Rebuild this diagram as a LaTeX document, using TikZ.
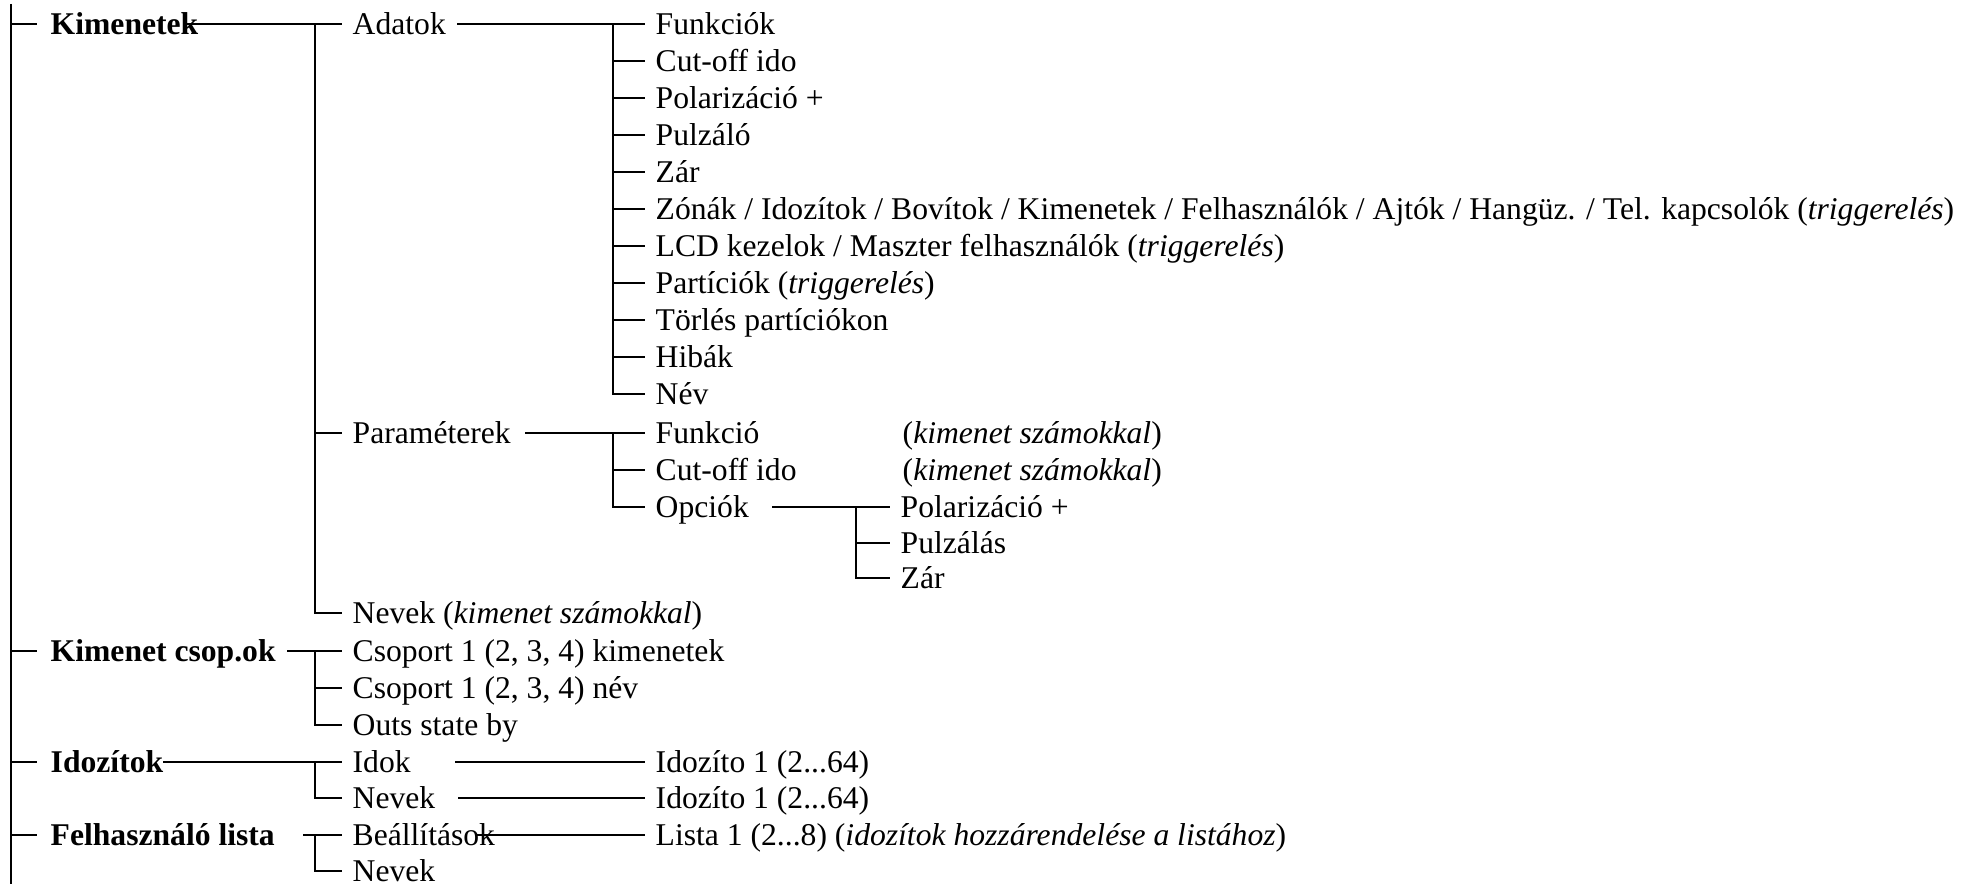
\documentclass[tikz,border=0pt]{standalone}
\usepackage{fontspec}
\setmainfont{Liberation Serif}

\begin{document}
\begin{tikzpicture}[
  font=\fontsize{9pt}{10pt}\selectfont,
  item/.style={anchor=west, inner xsep=0.1cm, inner ysep=0pt, text height=0.26cm, text depth=0.05cm},
  head/.style={item, inner xsep=0.13cm, font=\fontsize{9pt}{10pt}\selectfont\bfseries},
  wire/.style={line width=0.6pt}
]
\useasboundingbox (0,0) rectangle (19.70,-8.84);

%% ---------- spine ----------
\coordinate (spine-top) at (0.11,-0.04);
\coordinate (spine-bot) at (0.11,-8.84);
\draw[wire] (spine-top) -- (spine-bot);

%% ---------- top level ----------
\node[head] (kim)    at (0.37,-0.24) {Kimenetek};
\node[head] (csop)   at (0.37,-6.51) {Kimenet csop.ok};
\node[head] (idoz)   at (0.37,-7.62) {Idozítok};
\node[head] (flista) at (0.37,-8.35) {Felhasználó lista};

\draw[wire] (spine-top |- kim.west)    -- (kim.west);
\draw[wire] (spine-top |- csop.west)   -- (csop.west);
\draw[wire] (spine-top |- idoz.west)   -- (idoz.west);
\draw[wire] (spine-top |- flista.west) -- (flista.west);

%% ---------- Kimenetek ----------
\coordinate (kim-out) at (1.83,-0.24);
\coordinate (kim-j)   at (3.15,-0.24);

\node[item] (adatok) at (3.42,-0.24) {Adatok};
\node[item] (param)  at (3.42,-4.33) {Paraméterek};
\node[item] (kimnev) at (3.42,-6.13) {Nevek (\textit{kimenet számokkal})};

\draw[wire] (kim-out) -- (adatok.west);
\draw[wire] (kim-j) |- (param.west);
\draw[wire] (kim-j) |- (kimnev.west);

% Adatok
\coordinate (adat-out) at (4.57,-0.24);
\coordinate (adat-j)   at (6.13,-0.24);

\node[item] (a1)  at (6.45,-0.24) {Funkciók};
\node[item] (a2)  at (6.45,-0.61) {Cut-off ido};
\node[item] (a3)  at (6.45,-0.98) {Polarizáció +};
\node[item] (a4)  at (6.45,-1.35) {Pulzáló};
\node[item] (a5)  at (6.45,-1.72) {Zár};
\node[item] (a6)  at (6.45,-2.09) {Zónák / Idozítok / Bovítok / Kimenetek / Felhasználók / Ajtók / Hangüz. / Tel. kapcsolók (\textit{triggerelés})};
\node[item] (a7)  at (6.45,-2.46) {LCD kezelok / Maszter felhasználók (\textit{triggerelés})};
\node[item] (a8)  at (6.45,-2.83) {Partíciók (\textit{triggerelés})};
\node[item] (a9)  at (6.45,-3.20) {Törlés partíciókon};
\node[item] (a10) at (6.45,-3.57) {Hibák};
\node[item] (a11) at (6.45,-3.94) {Név};

\draw[wire] (adat-out) -- (a1.west);
\draw[wire] (adat-j) |- (a2.west);
\draw[wire] (adat-j) |- (a3.west);
\draw[wire] (adat-j) |- (a4.west);
\draw[wire] (adat-j) |- (a5.west);
\draw[wire] (adat-j) |- (a6.west);
\draw[wire] (adat-j) |- (a7.west);
\draw[wire] (adat-j) |- (a8.west);
\draw[wire] (adat-j) |- (a9.west);
\draw[wire] (adat-j) |- (a10.west);
\draw[wire] (adat-j) |- (a11.west);

% Parameterek
\coordinate (param-out) at (5.25,-4.33);
\coordinate (param-j)   at (6.13,-4.33);

\node[item] (p1) at (6.45,-4.33) {Funkció};
\node[item] (p2) at (6.45,-4.70) {Cut-off ido};
\node[item] (p3) at (6.45,-5.07) {Opciók};
\node[item] (pnote1) at (8.92,-4.33) {(\textit{kimenet számokkal})};
\node[item] (pnote2) at (8.92,-4.70) {(\textit{kimenet számokkal})};

\draw[wire] (param-out) -- (p1.west);
\draw[wire] (param-j) |- (p2.west);
\draw[wire] (param-j) |- (p3.west);

% Opciok
\coordinate (opc-out) at (7.72,-5.07);
\coordinate (opc-j)   at (8.56,-5.07);

\node[item] (o1) at (8.90,-5.07) {Polarizáció +};
\node[item] (o2) at (8.90,-5.43) {Pulzálás};
\node[item] (o3) at (8.90,-5.78) {Zár};

\draw[wire] (opc-out) -- (o1.west);
\draw[wire] (opc-j) |- (o2.west);
\draw[wire] (opc-j) |- (o3.west);

%% ---------- Kimenet csop.ok ----------
\coordinate (csop-out) at (2.87,-6.51);
\coordinate (csop-j)   at (3.15,-6.51);

\node[item] (csop1) at (3.42,-6.51) {Csoport 1 (2, 3, 4) kimenetek};
\node[item] (csop2) at (3.42,-6.88) {Csoport 1 (2, 3, 4) név};
\node[item] (outs)  at (3.42,-7.25) {Outs state by};

\draw[wire] (csop-out) -- (csop1.west);
\draw[wire] (csop-j) |- (csop2.west);
\draw[wire] (csop-j) |- (outs.west);

%% ---------- Idozitok ----------
\coordinate (idoz-out) at (1.63,-7.62);
\coordinate (idoz-j)   at (3.15,-7.62);

\node[item] (idok)  at (3.42,-7.62) {Idok};
\node[item] (idnev) at (3.42,-7.98) {Nevek};
\node[item] (ido1)  at (6.45,-7.62) {Idozíto 1 (2...64)};
\node[item] (ido2)  at (6.45,-7.98) {Idozíto 1 (2...64)};

\coordinate (idok-out)  at (4.55,-7.62);
\coordinate (idnev-out) at (4.58,-7.98);

\draw[wire] (idoz-out) -- (idok.west);
\draw[wire] (idoz-j) |- (idnev.west);
\draw[wire] (idok-out) -- (ido1.west);
\draw[wire] (idnev-out) -- (ido2.west);

%% ---------- Felhasznalo lista ----------
\coordinate (flista-out) at (3.03,-8.35);
\coordinate (flista-j)   at (3.15,-8.35);

\node[item] (beall) at (3.42,-8.35) {Beállítások};
\node[item] (flnev) at (3.42,-8.71) {Nevek};
\node[item] (lista) at (6.45,-8.35) {Lista 1 (2...8) (\textit{idozítok hozzárendelése a listához})};

\coordinate (beall-out) at (4.77,-8.35);

\draw[wire] (flista-out) -- (beall.west);
\draw[wire] (flista-j) |- (flnev.west);
\draw[wire] (beall-out) -- (lista.west);

\end{tikzpicture}
\end{document}
